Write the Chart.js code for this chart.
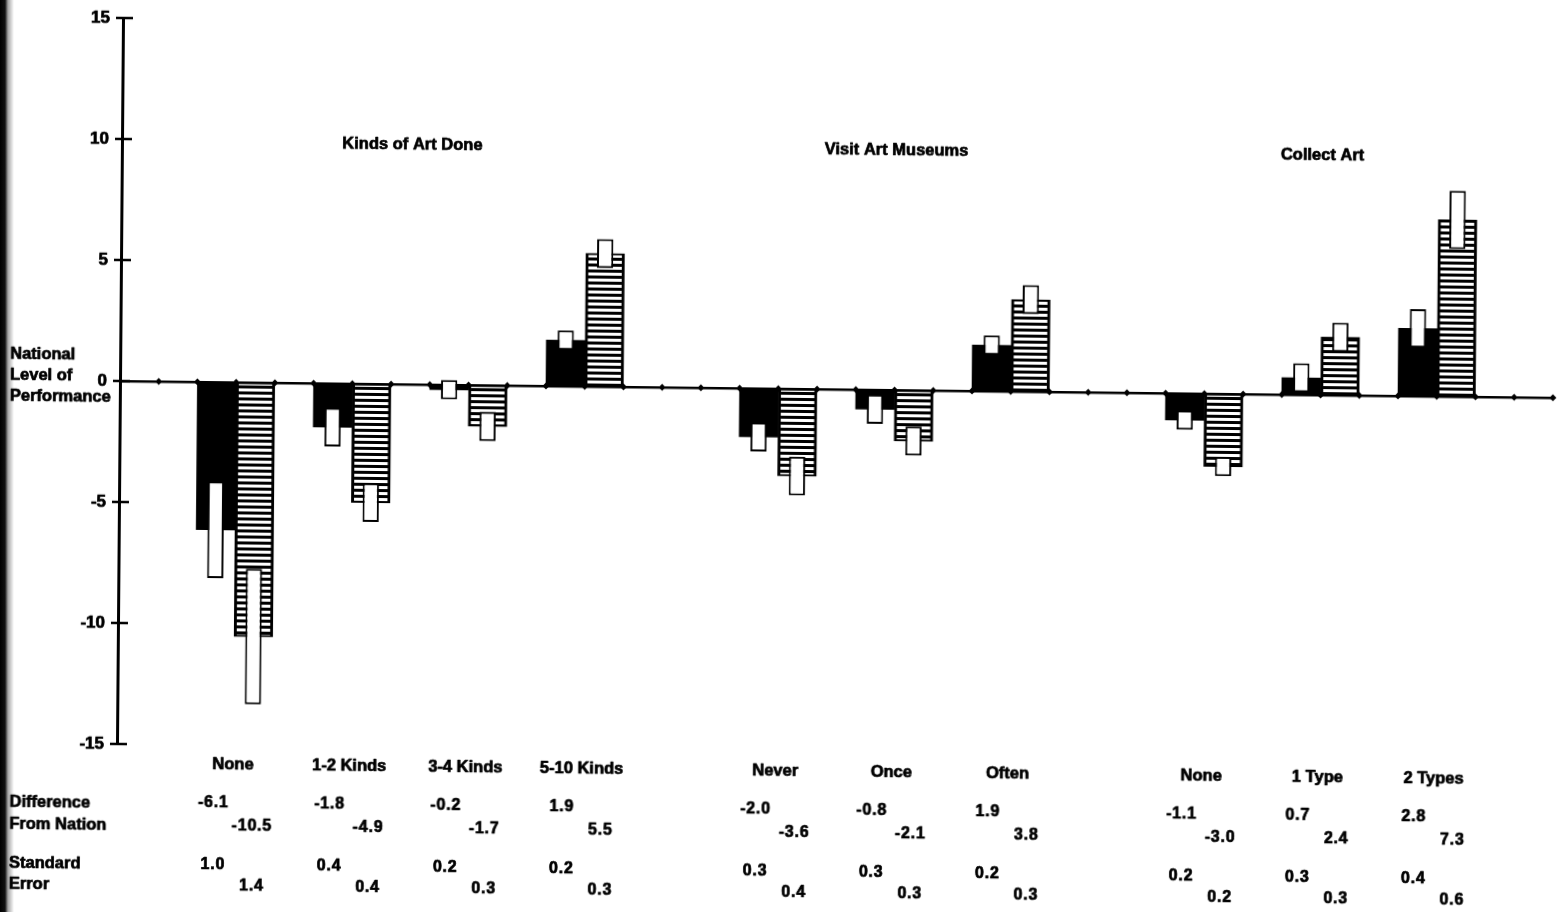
<!DOCTYPE html>
<html>
<head>
<meta charset="utf-8">
<script src="https://cdn.jsdelivr.net/npm/chart.js@4.4.1/dist/chart.umd.min.js"></script>
<style>
  html, body { margin: 0; padding: 0; background: #fff; }
  #sheet { position: relative; width: 1557px; height: 912px; overflow: hidden; background: #fff; }
  #page {
    position: absolute; left: 0; top: 0; width: 1557px; height: 912px;
    transform-origin: 120px 381px;
    transform: matrix(1, 0.0117, -0.0083, 1, 0, 0);
  }
  #edge {
    position: absolute; left: 0; top: 0; width: 16px; height: 912px;
    background: linear-gradient(to right, #000 0, #111 5px, rgba(0,0,0,0.35) 8px, rgba(0,0,0,0) 14px);
  }
</style>
</head>
<body>
<div id="sheet">
  <div id="page"><canvas id="c" width="1557" height="912"></canvas></div>
  <div id="edge"></div>
</div>
<script>
// Groups of background questions and their answer categories
const groupTitles = ['Kinds of Art Done', 'Visit Art Museums', 'Collect Art'];
const groupSizes = [4, 3, 3];
const categories = ['None', '1-2 Kinds', '3-4 Kinds', '5-10 Kinds', 'Never', 'Once', 'Often', 'None', '1 Type', '2 Types'];

// Difference from the national level of performance (solid bars / striped bars)
const diffSolid   = [-6.1, -1.8, -0.2, 1.9, -2.0, -0.8, 1.9, -1.1, 0.7, 2.8];
const diffStriped = [-10.5, -4.9, -1.7, 5.5, -3.6, -2.1, 3.8, -3.0, 2.4, 7.3];

// Standard errors (the white boxes span two standard errors either side)
const seSolid   = [1.0, 0.4, 0.2, 0.2, 0.3, 0.3, 0.2, 0.2, 0.3, 0.4];
const seStriped = [1.4, 0.4, 0.3, 0.3, 0.4, 0.3, 0.3, 0.2, 0.3, 0.6];

const yTicks = [15, 10, 5, 0, -5, -10, -15];
const yAxisTitle = ['National', 'Level of', 'Performance'];
const rowTitles = [['Difference', 'From Nation'], ['Standard', 'Error']];

// Slot layout on the category axis: slot 0 is empty, each pair is preceded by
// one empty slot, and two more empty slots separate the groups
const slotSolid = [], slotStriped = [];
let s = 0;
groupSizes.forEach((n, g) => {
  if (g > 0) s += 2;
  for (let k = 0; k < n; k++) {
    slotSolid.push(s + 2);
    slotStriped.push(s + 3);
    s += 3;
  }
});
const slotCount = s + 3;
const slotLabels = Array.from({ length: slotCount }, (_, i) => String(i));

function spread(slots, vals) {
  const a = new Array(slotCount).fill(null);
  slots.forEach((sl, i) => { a[sl] = vals[i]; });
  return a;
}
const boxSolid = diffSolid.map((v, i) => [v - 2 * seSolid[i], v + 2 * seSolid[i]]);
const boxStriped = diffStriped.map((v, i) => [v - 2 * seStriped[i], v + 2 * seStriped[i]]);

const canvas = document.getElementById('c');
const ctx = canvas.getContext('2d');

function stripePattern() {
  const p = document.createElement('canvas');
  p.width = 8; p.height = 6;
  const c = p.getContext('2d');
  c.fillStyle = '#000'; c.fillRect(0, 0, 8, 6);
  c.fillStyle = '#fff'; c.fillRect(0, 3, 8, 3);
  return ctx.createPattern(p, 'repeat');
}

const FONT = "'Liberation Sans', Arial, sans-serif";
const L = {
  titleY: 141, catY: 763,
  rowY: [802, 825, 864, 885],
  rowTitleX: 13, rowTitleY: [803, 825, 864, 885],
  axisTitleX: 10, axisTitleY: [355, 376, 397],
  tickLeft: 7, tickRight: 10
};

// heavy print-style text: fill plus a thin outline
function heavyText(c, text, x, y, spacing) {
  c.letterSpacing = spacing || '0px';
  c.fillText(text, x, y);
  c.strokeText(text, x, y);
  c.letterSpacing = '0px';
}

const annotations = {
  id: 'annotations',
  afterDatasetsDraw(chart) {
    const c = chart.ctx;
    const x = chart.scales.x, y = chart.scales.y;
    const area = chart.chartArea;
    c.save();
    c.fillStyle = '#000';
    c.strokeStyle = '#000';

    // crossing tick marks on the value axis
    c.lineWidth = 2.5;
    yTicks.forEach(t => {
      const py = y.getPixelForValue(t);
      c.beginPath();
      c.moveTo(area.left - L.tickLeft, py);
      c.lineTo(area.left + L.tickRight, py);
      c.stroke();
    });

    c.lineWidth = 0.7;
    c.lineJoin = 'round';
    c.textBaseline = 'middle';
    // group titles
    c.textAlign = 'center';
    c.font = 'bold 16.5px ' + FONT;
    let first = 0;
    groupSizes.forEach((n, g) => {
      const last = first + n - 1;
      const cx = (x.getPixelForValue(slotSolid[first]) + x.getPixelForValue(slotStriped[last])) / 2;
      heavyText(c, groupTitles[g], cx, L.titleY);
      first += n;
    });

    // category names and table values
    categories.forEach((name, i) => {
      const xa = x.getPixelForValue(slotSolid[i]);
      const xb = x.getPixelForValue(slotStriped[i]);
      c.font = 'bold 16.5px ' + FONT;
      heavyText(c, name, (xa + xb) / 2, L.catY);
      c.font = 'bold 16px ' + FONT;
      heavyText(c, diffSolid[i].toFixed(1), xa, L.rowY[0], '0.8px');
      heavyText(c, diffStriped[i].toFixed(1), xb, L.rowY[1], '0.8px');
      heavyText(c, seSolid[i].toFixed(1), xa, L.rowY[2], '0.8px');
      heavyText(c, seStriped[i].toFixed(1), xb, L.rowY[3], '0.8px');
    });

    // row titles and value-axis title
    c.textAlign = 'left';
    c.font = 'bold 16.5px ' + FONT;
    rowTitles.flat().forEach((t, i) => heavyText(c, t, L.rowTitleX, L.rowTitleY[i]));
    yAxisTitle.forEach((t, i) => heavyText(c, t, L.axisTitleX, L.axisTitleY[i]));
    c.restore();
  }
};

// diamond marks at every slot boundary along the zero line
const boundaries = Array.from({ length: slotCount }, (_, i) => ({ x: i + 1, y: 0 }));

const barCommon = { grouped: false, categoryPercentage: 1, xAxisID: 'x', yAxisID: 'y' };

new Chart(ctx, {
  type: 'bar',
  data: {
    labels: slotLabels,
    datasets: [
      Object.assign({
        label: 'error solid', data: spread(slotSolid, boxSolid), barPercentage: 0.42,
        backgroundColor: '#fff', borderColor: '#000', borderWidth: 2, borderSkipped: false, order: 0
      }, barCommon),
      Object.assign({
        label: 'error striped', data: spread(slotStriped, boxStriped), barPercentage: 0.42,
        backgroundColor: '#fff', borderColor: '#000', borderWidth: 2, borderSkipped: false, order: 0
      }, barCommon),
      Object.assign({
        label: 'solid', data: spread(slotSolid, diffSolid), barPercentage: 1,
        backgroundColor: '#000', borderWidth: 0, order: 2
      }, barCommon),
      Object.assign({
        label: 'striped', data: spread(slotStriped, diffStriped), barPercentage: 1,
        backgroundColor: stripePattern(), borderColor: '#000',
        borderWidth: { left: 3, right: 3, top: 2, bottom: 2 }, borderSkipped: false, order: 1
      }, barCommon),
      {
        type: 'scatter', label: 'marks', data: boundaries, xAxisID: 'xd', yAxisID: 'y',
        pointStyle: 'rectRot', pointRadius: 3.5, backgroundColor: '#000', borderWidth: 0,
        clip: false, order: 3
      }
    ]
  },
  options: {
    responsive: false,
    animation: false,
    events: [],
    layout: { padding: { top: 18, right: 4, bottom: 168, left: 0 } },
    plugins: { legend: { display: false }, tooltip: { enabled: false } },
    scales: {
      x: {
        type: 'category', axis: 'x', position: { y: 0 }, offset: true,
        ticks: { display: false }, grid: { display: false },
        border: { display: true, color: '#000', width: 2.5 }
      },
      xd: { type: 'linear', axis: 'x', min: 0, max: slotCount, offset: false, display: false },
      y: {
        type: 'linear', position: 'left', min: -15, max: 15,
        afterFit(scale) { scale.width = 120; },
        afterBuildTicks(scale) { scale.ticks = yTicks.map(v => ({ value: v })); },
        ticks: {
          color: '#000', font: { family: FONT, size: 17, weight: 'bold' }, padding: 5,
          textStrokeColor: '#000', textStrokeWidth: 0.7
        },
        grid: { display: false },
        border: { display: true, color: '#000', width: 3 }
      }
    }
  },
  plugins: [annotations]
});
</script>
</body>
</html>
